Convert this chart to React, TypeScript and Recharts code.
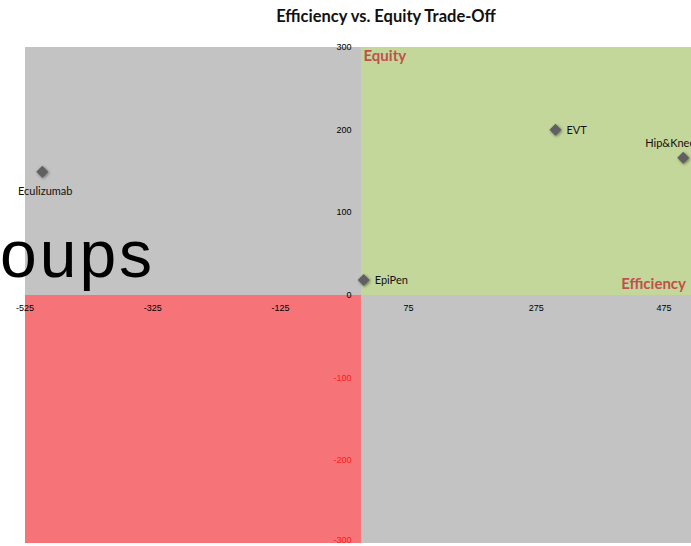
import React from "react";
import {
  ScatterChart,
  Scatter,
  XAxis,
  YAxis,
  ReferenceArea,
  ReferenceDot,
  LabelList,
} from "recharts";

const drugs = ["Eculizumab", "EpiPen", "EVT", "Hip&Knee"];
const efficiency = [-498, 5, 305, 505];
const equity = [149, 18, 200, 166];

const xTicks = [-525, -325, -125, 75, 275, 475];
const yTicks = [300, 200, 100, 0, -100, -200, -300];

const GREY = "#c3c3c3";
const GREEN = "#c4d79b";
const RED = "#f67477";
const LABEL_RED = "#c0504d";

const data = drugs.map((name, i) => ({ name, x: efficiency[i], y: equity[i] }));

const Diamond = (props: any) => {
  const { cx, cy } = props;
  const r = 6;
  return (
    <polygon
      points={`${cx},${cy - r} ${cx + r},${cy} ${cx},${cy + r} ${cx - r},${cy}`}
      fill="#606060"
      style={{ filter: "drop-shadow(1px 1px 1.5px rgba(0,0,0,0.45))" }}
    />
  );
};

// where each point's label sits relative to the marker
const placement: Record<string, "below" | "right" | "aboveLeft"> = {
  Eculizumab: "below",
  EpiPen: "right",
  EVT: "right",
  "Hip&Knee": "aboveLeft",
};

const PointLabel = (props: any) => {
  const { x, y, width, height, value } = props;
  const cx = x + width / 2;
  const cy = y + height / 2;
  const where = placement[value];
  let tx = cx + 11;
  let ty = cy + 4;
  let anchor: "start" | "middle" | "end" = "start";
  if (where === "below") {
    tx = cx + 3;
    ty = cy + 23;
    anchor = "middle";
  } else if (where === "aboveLeft") {
    tx = cx + 12;
    ty = cy - 11;
    anchor = "end";
  }
  return (
    <text x={tx} y={ty} textAnchor={anchor} fontSize={11} fill="#111" fontFamily="Lato, 'Open Sans', sans-serif">
      {value}
    </text>
  );
};

export default function App() {
  return (
    <div
      style={{
        position: "absolute",
        left: 0,
        top: 0,
        width: 691,
        height: 546,
        overflow: "hidden",
        background: "#fff",
      }}
    >
      <div
        style={{
          position: "absolute",
          left: 0,
          width: 772,
          top: 6,
          textAlign: "center",
          fontFamily: "Lato, 'Open Sans', sans-serif",
          fontWeight: 700,
          fontSize: 16.5,
          color: "#111",
        }}
      >
        Efficiency vs. Equity Trade-Off
      </div>
      <div style={{ position: "absolute", left: 0, top: 0 }}>
        <ScatterChart width={720} height={546} margin={{ top: 47, right: 24, bottom: 3, left: 25 }}>
          <XAxis type="number" dataKey="x" domain={[-525, 525]} hide />
          <YAxis type="number" dataKey="y" domain={[-300, 300]} hide />
          <ReferenceArea x1={-525} x2={0} y1={0} y2={300} fill={GREY} fillOpacity={1} stroke="none" shapeRendering="crispEdges" />
          <ReferenceArea x1={0} x2={525} y1={-300} y2={0} fill={GREY} fillOpacity={1} stroke="none" shapeRendering="crispEdges" />
          <ReferenceArea x1={-525} x2={0} y1={-300} y2={0} fill={RED} fillOpacity={1} stroke="none" shapeRendering="crispEdges" />
          <ReferenceArea
            x1={0}
            x2={525}
            y1={0}
            y2={300}
            fill={GREEN}
            fillOpacity={1}
            stroke="none"
            shapeRendering="crispEdges"
            label={(p: any) => {
              const vb = p.viewBox;
              return (
                <g fontFamily="Lato, 'Open Sans', sans-serif" fontWeight={700} fontSize={15} fill={LABEL_RED}>
                  <text x={vb.x + 3} y={vb.y + 14}>Equity</text>
                  <text x={vb.x + vb.width - 10} y={vb.y + vb.height - 6} textAnchor="end">
                    Efficiency
                  </text>
                </g>
              );
            }}
          />
          {xTicks.map((t) => (
            <ReferenceDot
              key={`x${t}`}
              x={t}
              y={0}
              r={0}
              ifOverflow="visible"
              label={(p: any) => (
                <text
                  x={p.viewBox.x + p.viewBox.width / 2}
                  y={p.viewBox.y + 16}
                  textAnchor="middle"
                  fontSize={9}
                  fontFamily="'Liberation Sans', Arial, sans-serif"
                  fill="#000"
                >
                  {t}
                </text>
              )}
            />
          ))}
          {yTicks.map((t) => (
            <ReferenceDot
              key={`y${t}`}
              x={0}
              y={t}
              r={0}
              ifOverflow="visible"
              label={(p: any) => (
                <text
                  x={p.viewBox.x - 9}
                  y={p.viewBox.y + (t === -300 ? 0 : 3)}
                  textAnchor="end"
                  fontSize={9}
                  fontFamily="'Liberation Sans', Arial, sans-serif"
                  fill={t < 0 ? "#ff1a1a" : "#000"}
                >
                  {t}
                </text>
              )}
            />
          ))}
          <Scatter data={data} shape={<Diamond />} isAnimationActive={false}>
            <LabelList dataKey="name" content={<PointLabel />} />
          </Scatter>
        </ScatterChart>
      </div>
      <svg width={691} height={546} style={{ position: "absolute", left: 0, top: 0, pointerEvents: "none" }}>
        <text
          x={0}
          y={277}
          fontSize={66}
          letterSpacing={3}
          fontFamily="'Liberation Sans', Arial, sans-serif"
          fill="#000"
        >
          oups
        </text>
      </svg>
    </div>
  );
}
